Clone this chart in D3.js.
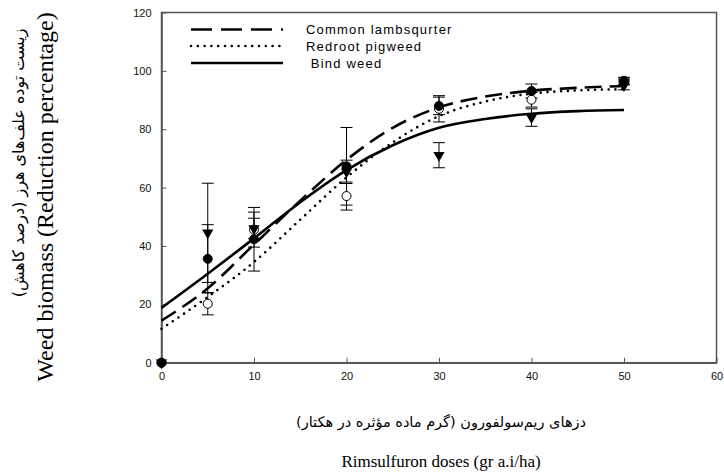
<!DOCTYPE html>
<html>
<head>
<meta charset="utf-8">
<script src="https://cdn.jsdelivr.net/npm/d3@7"></script>
<style>
  html, body { margin: 0; padding: 0; background: #fff; }
  svg { display: block; }
</style>
</head>
<body>
<svg id="chart" width="724" height="474"></svg>
<script>
// ---------- data ----------
const doses = [0, 5, 10, 20, 30, 40, 50];
const seriesNames = ["Common lambsqurter", "Redroot pigweed", " Bind weed"];
// observed means
const lambsMean   = [0, 35.6, 42.3, 67.3, 88.0, 93.1, 96.6];
const lambsErr    = [0, 11.7, 10.9, 13.3, 3.0, 2.4, 1.2];
const pigweedMean = [0, 20.2, 45.6, 57.1, 87.0, 90.1, 96.2];
const pigweedErr  = [0, 3.8, 6.0, 4.8, 4.5, 2.5, 1.0];
const bindMean    = [0, 44.5, 46.0, 65.4, 71.1, 84.0, 95.0];
const bindErr     = [0, 17.0, 3.5, 4.0, 4.3, 3.0, 1.5];
// fitted curves
const curveX      = [0, 5, 10, 15, 20, 25, 30, 35, 40, 45, 50];
const lambsCurve  = [14.4, 25.5, 40.5, 55.5, 69.5, 80.5, 87.5, 91.2, 93.2, 94.2, 94.8];
const pigCurve    = [11.6, 22.5, 34.5, 49.0, 63.5, 75.5, 84.5, 89.5, 92.2, 93.3, 93.7];
const bindCurve   = [18.8, 30.5, 42.6, 55.0, 66.0, 74.5, 80.5, 83.5, 85.3, 86.2, 86.6];
const xTicks = [0, 10, 20, 30, 40, 50, 60];
const yTicks = [0, 20, 40, 60, 80, 100, 120];

// ---------- drawing ----------
const svg = d3.select("#chart");
const x = d3.scaleLinear().domain([0, 60]).range([161.5, 716.5]);
const y = d3.scaleLinear().domain([0, 120]).range([362.7, 12.5]);
const axisColor = "#555";

// frame
svg.append("rect")
  .attr("x", x(0)).attr("y", y(120))
  .attr("width", x(60) - x(0)).attr("height", y(0) - y(120))
  .attr("fill", "none").attr("stroke", axisColor).attr("stroke-width", 1.5);

// axes
const xAxis = d3.axisBottom(x).tickValues(xTicks).tickSizeInner(-5).tickSizeOuter(0).tickPadding(10);
const yAxis = d3.axisLeft(y).tickValues(yTicks).tickSizeInner(-5).tickSizeOuter(0).tickPadding(10);
const gx = svg.append("g").attr("transform", `translate(0,${y(0)})`).call(xAxis);
const gy = svg.append("g").attr("transform", `translate(${x(0)},0)`).call(yAxis);
[gx, gy].forEach(g => {
  g.select(".domain").attr("stroke", axisColor).attr("stroke-width", 1.5);
  g.selectAll(".tick line").attr("stroke", axisColor).attr("stroke-width", 1);
  g.selectAll(".tick text").attr("fill", "#111")
    .style("font-family", "'Liberation Sans', Arial, sans-serif").style("font-size", "11px");
});

// curves
const line = d3.line().curve(d3.curveMonotoneX).x(d => x(d[0])).y(d => y(d[1]));
const curveDefs = [
  { vals: lambsCurve, dash: "17,8", cap: "butt", w: 2.6 },
  { vals: pigCurve, dash: "0,6.8", cap: "round", w: 2.6 },
  { vals: bindCurve, dash: null, cap: "butt", w: 2.6 }
];
curveDefs.forEach(c => {
  svg.append("path")
    .datum(curveX.map((v, i) => [v, c.vals[i]]))
    .attr("d", line)
    .attr("fill", "none").attr("stroke", "#000")
    .attr("stroke-width", c.w)
    .attr("stroke-linecap", c.cap)
    .attr("stroke-dasharray", c.dash);
});

// error bars + markers
const obs = [
  { mean: pigweedMean, err: pigweedErr, type: "open" },
  { mean: bindMean, err: bindErr, type: "tri" },
  { mean: lambsMean, err: lambsErr, type: "filled" }
];
const capW = 6;
obs.forEach(s => {
  const g = svg.append("g");
  doses.forEach((d, i) => {
    const e = s.err[i];
    if (e <= 0) return;
    const cx = x(d), top = y(s.mean[i] + e), bot = y(s.mean[i] - e);
    g.append("line").attr("x1", cx).attr("x2", cx).attr("y1", top).attr("y2", bot)
      .attr("stroke", "#000").attr("stroke-width", 1);
    [top, bot].forEach(yy => g.append("line")
      .attr("x1", cx - capW).attr("x2", cx + capW).attr("y1", yy).attr("y2", yy)
      .attr("stroke", "#000").attr("stroke-width", 1));
  });
});
obs.forEach(s => {
  const g = svg.append("g");
  doses.forEach((d, i) => {
    const cx = x(d), cy = y(s.mean[i]);
    if (s.type === "tri") {
      g.append("path")
        .attr("d", d3.symbol().type(d3.symbolTriangle).size(55))
        .attr("transform", `translate(${cx},${cy}) rotate(180)`)
        .attr("fill", "#000");
    } else {
      g.append("circle").attr("cx", cx).attr("cy", cy).attr("r", 4.5)
        .attr("fill", s.type === "filled" ? "#000" : "#fff")
        .attr("stroke", "#000").attr("stroke-width", 1);
    }
  });
});

// legend
const legY = [29.5, 46, 63];
curveDefs.forEach((c, i) => {
  svg.append("line")
    .attr("x1", 191).attr("x2", 283).attr("y1", legY[i]).attr("y2", legY[i])
    .attr("stroke", "#000").attr("stroke-width", c.w)
    .attr("stroke-linecap", c.cap)
    .attr("stroke-dasharray", i === 0 ? "21,9" : c.dash);
  svg.append("text")
    .attr("x", 306).attr("y", legY[i] + 4.5)
    .attr("xml:space", "preserve")
    .style("white-space", "pre")
    .style("font-family", "'Liberation Sans', Arial, sans-serif")
    .style("font-size", "13px")
    .style("letter-spacing", "1.2px")
    .attr("fill", "#000")
    .text(seriesNames[i]);
});

// axis titles
const serif = "'Liberation Serif', 'Times New Roman', serif";
const persian = "'DejaVu Sans', 'Liberation Serif', serif";
svg.append("text")
  .attr("x", 441).attr("y", 427)
  .attr("text-anchor", "middle").attr("direction", "rtl")
  .style("font-family", persian).style("font-size", "14.5px")
  .text("دزهای ریم‌سولفورون (گرم ماده مؤثره در هکتار)");
svg.append("text")
  .attr("x", 441).attr("y", 467)
  .attr("text-anchor", "middle")
  .style("font-family", serif).style("font-size", "17px")
  .text("Rimsulfuron doses (gr a.i/ha)");
svg.append("text")
  .attr("transform", "translate(24,163) rotate(-90)")
  .attr("text-anchor", "middle").attr("direction", "rtl")
  .style("font-family", persian).style("font-size", "16px")
  .text("زیست توده علف‌های هرز (درصد کاهش)");
svg.append("text")
  .attr("transform", "translate(53,197) rotate(-90)")
  .attr("text-anchor", "middle")
  .style("font-family", serif).style("font-size", "24px")
  .text("Weed biomass (Reduction percentage)");
</script>
</body>
</html>
